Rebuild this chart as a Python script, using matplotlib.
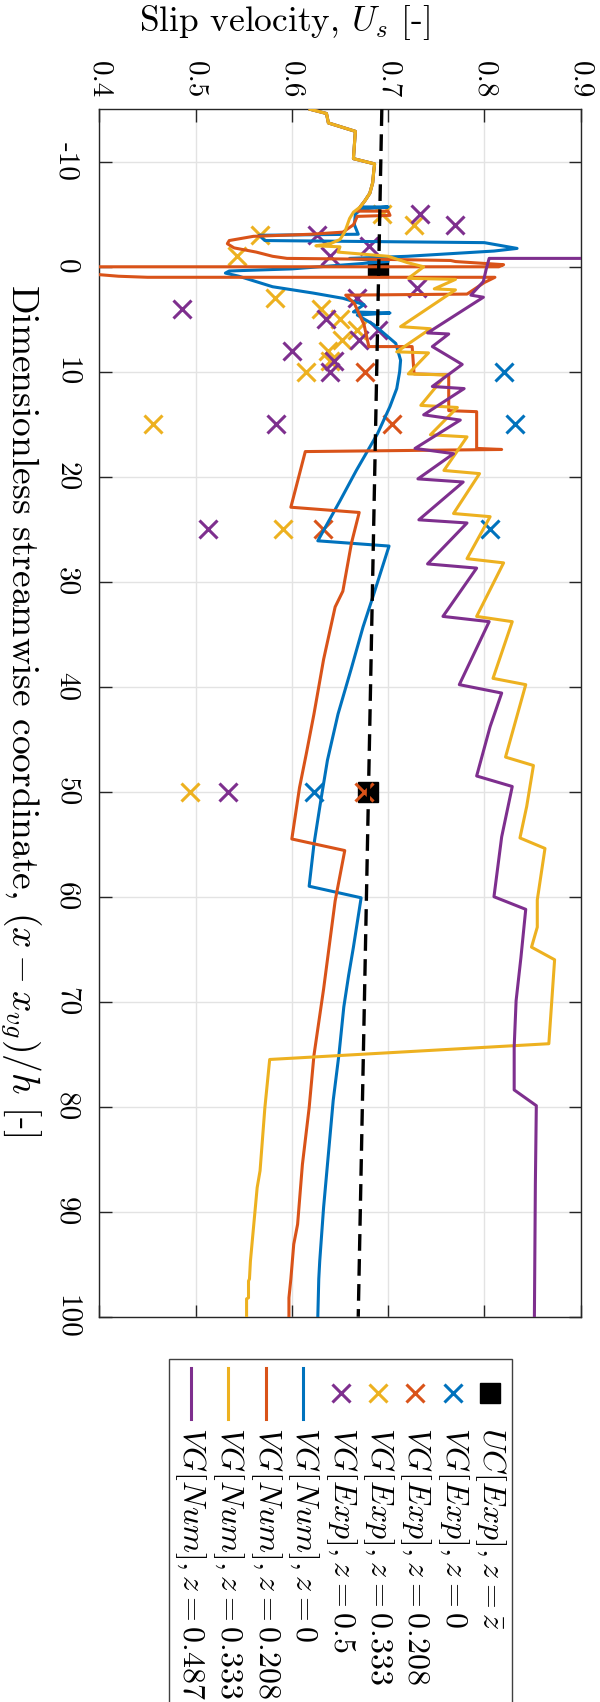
import matplotlib
matplotlib.use('Agg')
import matplotlib.pyplot as plt
from matplotlib.lines import Line2D
from matplotlib.patches import Rectangle

plt.rcParams['font.family'] = 'serif'
plt.rcParams['font.serif'] = ['cmr10']
plt.rcParams['mathtext.fontset'] = 'cm'
plt.rcParams['axes.unicode_minus'] = False
plt.rcParams['axes.formatter.use_mathtext'] = True

# matlab default colours
c_blue = '#0072BD'
c_orange = '#D95319'
c_yellow = '#EDB120'
c_purple = '#7E2F8E'

# ---- experimental data (x-x_vg)/h , U_s ----
uc_s = [0, 50]
uc_u = [0.690, 0.679]

vg0_s = [10, 15, 25, 50]
vg0_u = [0.820, 0.832, 0.806, 0.623]

vg208_s = [10, 15, 25, 50]
vg208_u = [0.676, 0.704, 0.632, 0.675]

vg333_s = [-5, -4, -3, -1, 3, 4, 5, 6, 7, 8, 9, 10, 15, 25, 50]
vg333_u = [0.694, 0.727, 0.567, 0.543, 0.583, 0.630, 0.650, 0.668, 0.652, 0.638,
           0.640, 0.615, 0.456, 0.591, 0.494]

vg5_s = [-5, -4, -3, -2, -1, 2, 3, 4, 5, 6, 7, 8, 9, 10, 15, 25, 50]
vg5_u = [0.733, 0.770, 0.626, 0.680, 0.640, 0.730, 0.668, 0.486, 0.635, 0.690,
         0.670, 0.600, 0.644, 0.640, 0.584, 0.513, 0.534]

# ---- numerical data ----
# upstream part common to z=0, 0.208, 0.333
up_s = [-15, -14.6, -13.7, -12.9, -10.3, -9.8, -9.0, -8.0, -7.0, -6.3, -5.7]
up_u = [0.619, 0.636, 0.638, 0.666, 0.664, 0.686, 0.685, 0.684, 0.681, 0.676, 0.671]

num0_s = [-5.7, -5.5, -5.0, -4.0, -3.1, -3.0, -2.5, -2.3, -1.75, -1.5, -1.0, -0.8,
          -0.5, 0.2, 0.4, 0.6, 0.9, 1.9, 2.5, 3.0, 3.6, 4.3, 4.4, 4.6, 5.5, 7.3,
          8.9, 10, 11.6, 13.3, 15.9, 19.4, 22.3, 26.1, 26.6, 31.5, 34.3, 38.2,
          42.6, 47.0, 50.9, 55.0, 59.0, 60.1, 64.8, 67.5, 70.5, 75.0, 79.4,
          84.5, 89.6, 94.7, 96.4, 100]
num0_u = [0.700, 0.672, 0.666, 0.665, 0.669, 0.566, 0.572, 0.800, 0.834, 0.810,
          0.720, 0.660, 0.700, 0.600, 0.535, 0.531, 0.545, 0.580, 0.622, 0.653,
          0.675, 0.664, 0.702, 0.668, 0.685, 0.708, 0.713, 0.712, 0.709, 0.702,
          0.689, 0.667, 0.650, 0.627, 0.701, 0.684, 0.674, 0.662, 0.648, 0.637,
          0.630, 0.623, 0.618, 0.672, 0.664, 0.659, 0.654, 0.649, 0.643, 0.638,
          0.633, 0.629, 0.628, 0.627]

num208_s = [-5.3, -5.3, -4.9, -4.8, -4.0, -3.3, -3.1, -2.9, -2.5, -2.2, -1.8,
            -1.4, -1.0, -0.8, -0.7, -0.6, -0.5, -0.2, 0.0, 0.0, 0.7, 0.75, 0.9,
            1.0, 1.0, 1.5, 2.6, 2.7, 3.5, 5.5, 7.6, 7.6, 10.2, 10.3, 13.7, 13.8,
            17.3, 17.4, 17.6, 22.9, 23.4, 26.3, 30.9, 32.4, 37.4, 42.6, 46.4,
            49.6, 54.5, 55.6, 60.4, 68.8, 75.1, 80.1, 85.5, 91.2, 93.1, 96.4,
            98.2, 100]
num208_u = [0.668, 0.700, 0.702, 0.668, 0.664, 0.653, 0.620, 0.560, 0.535, 0.533,
            0.540, 0.563, 0.580, 0.595, 0.700, 0.765, 0.770, 0.820, 0.815, 0.380,
            0.380, 0.400, 0.420, 0.450, 0.811, 0.800, 0.782, 0.656, 0.665, 0.675,
            0.680, 0.725, 0.727, 0.763, 0.763, 0.792, 0.792, 0.818, 0.614, 0.599,
            0.670, 0.662, 0.653, 0.645, 0.633, 0.623, 0.615, 0.608, 0.600, 0.655,
            0.645, 0.633, 0.623, 0.618, 0.611, 0.606, 0.602, 0.599, 0.597, 0.597]

num333_s = [-5.2, -4.6, -3.3, -2.6, -2.2, -2.0, -1.9, -1.4, -1.0, -0.4, 0.0, 1.1,
            1.2, 2.1, 2.2, 5.7, 5.9, 8.1, 8.2, 10.2, 10.3, 13.2, 13.4, 16.0, 16.2,
            19.4, 19.7, 23.5, 23.8, 27.8, 28.2, 33.3, 33.8, 39.2, 39.8, 46.7, 47.5,
            51.4, 54.4, 55.4, 60.3, 62.9, 64.8, 66.0, 74.0, 75.5, 80.1, 86.1, 87.7,
            94.7, 96.4, 96.6, 98.2, 98.3, 100]
num333_u = [0.664, 0.660, 0.655, 0.650, 0.640, 0.625, 0.650, 0.648, 0.700, 0.720,
            0.737, 0.721, 0.770, 0.748, 0.770, 0.713, 0.744, 0.709, 0.742, 0.721,
            0.760, 0.734, 0.772, 0.744, 0.782, 0.758, 0.795, 0.768, 0.806, 0.782,
            0.820, 0.792, 0.829, 0.809, 0.843, 0.822, 0.851, 0.844, 0.837, 0.863,
            0.855, 0.855, 0.849, 0.873, 0.867, 0.577, 0.572, 0.567, 0.564, 0.557,
            0.556, 0.555, 0.555, 0.553, 0.553]

num487_s = [-0.8, -0.8, 0.2, 1.4, 2.7, 2.9, 6.3, 6.4, 7.6, 9.3, 11.4, 11.6, 14.1,
            14.6, 17.3, 17.8, 20.2, 20.5, 24.1, 24.4, 28.3, 28.7, 33.3, 33.8, 39.8,
            40.6, 43.8, 48.5, 49.5, 54.3, 60.0, 61.2, 65.8, 69.9, 74.3, 78.4, 79.9,
            87.4, 100]
num487_u = [0.950, 0.805, 0.802, 0.799, 0.786, 0.799, 0.741, 0.763, 0.746, 0.777,
            0.746, 0.779, 0.737, 0.775, 0.728, 0.768, 0.731, 0.778, 0.732, 0.782,
            0.741, 0.792, 0.757, 0.805, 0.774, 0.818, 0.806, 0.792, 0.829, 0.818,
            0.810, 0.843, 0.838, 0.833, 0.831, 0.831, 0.854, 0.853, 0.852]

# fit line for the unperturbed case
fit_s = [-15, 100]
fit_u = [0.6935, 0.669]

xticks = [0.4, 0.5, 0.6, 0.7, 0.8, 0.9]
yticks = [-10, 0, 10, 20, 30, 40, 50, 60, 70, 80, 90, 100]

legend_labels = [r'$UC[Exp], z = \bar{z}$', r'$VG[Exp], z = 0$',
                 r'$VG[Exp], z = 0.208$', r'$VG[Exp], z = 0.333$',
                 r'$VG[Exp], z = 0.5$', r'$VG[Num], z = 0$',
                 r'$VG[Num], z = 0.208$', r'$VG[Num], z = 0.333$',
                 r'$VG[Num], z = 0.487$']

W, H = 600, 1702
fig = plt.figure(figsize=(W / 100, H / 100), dpi=100)
ax = fig.add_axes([99.3 / W, 1 - 1316.7 / H, 481.3 / W, 1207.4 / H])

lw = 2.2
ms = 13
ax.plot(uc_u, uc_s, 's', color='k', ms=14, zorder=3)
ax.plot(vg0_u, vg0_s, 'x', color=c_blue, ms=ms, mew=lw, zorder=3)
ax.plot(vg208_u, vg208_s, 'x', color=c_orange, ms=ms, mew=lw, zorder=3)
ax.plot(vg333_u, vg333_s, 'x', color=c_yellow, ms=ms, mew=lw, zorder=3)
ax.plot(vg5_u, vg5_s, 'x', color=c_purple, ms=ms, mew=lw, zorder=3)

ax.plot(up_u + num0_u, up_s + num0_s, color=c_blue, lw=lw, zorder=3)
ax.plot(up_u + num208_u, up_s + num208_s, color=c_orange, lw=lw, zorder=3)
ax.plot(up_u + num333_u, up_s + num333_s, color=c_yellow, lw=lw, zorder=3)
ax.plot(num487_u, num487_s, color=c_purple, lw=lw, zorder=3)

fl, = ax.plot(fit_u, fit_s, color='k', lw=2.4, zorder=4)
fl.set_dashes([5, 2.5])

ax.set_xlim(0.4, 0.9)
ax.set_ylim(100, -15)
ax.set_xticks(xticks)
ax.set_xticklabels([str(v) for v in xticks])
ax.set_yticks(yticks)
ax.set_yticklabels([str(v) for v in yticks])
ax.xaxis.tick_top()
ax.tick_params(direction='in', top=True, bottom=True, left=True, right=True,
               length=9, width=1, color='#262626', labelsize=21)
ax.tick_params(axis='x', labelrotation=-90, pad=8)
ax.tick_params(axis='y', labelrotation=-90, pad=14)
for lab in ax.get_yticklabels():
    lab.set_va('center')
ax.grid(True, color='#e3e3e3', lw=1)
ax.set_axisbelow(True)
for sp in ax.spines.values():
    sp.set_color('#262626')
    sp.set_linewidth(1)

ax.xaxis.set_label_position('top')
ax.set_xlabel(r'Slip velocity, $U_s$ [-]', fontsize=25.5)
ax.xaxis.set_label_coords((285 - 99.3) / 481.3, 1 + (109.3 - 22) / 1207.4)
ax.xaxis.label.set_va('center')
ax.set_ylabel(r'Dimensionless streamwise coordinate, $(x-x_{vg})/h$ [-]',
              fontsize=27, rotation=-90)
ax.yaxis.set_label_coords((20 - 99.3) / 481.3, (1316.7 - 710) / 1207.4)
ax.yaxis.label.set_va('center')
ax.yaxis.label.set_ha('center')

# legend, drawn rotated like the rest of the figure
fig.add_artist(Rectangle((168.7 / W, 1 - 1760 / H), (511.7 - 168.7) / W,
                         (1760 - 1358.7) / H, transform=fig.transFigure,
                         fill=False, edgecolor='#404040', lw=1.0))
col_x = [490, 453, 415, 378, 341, 303, 266, 228, 190.5]
kinds = [('s', 'k'), ('x', c_blue), ('x', c_orange), ('x', c_yellow), ('x', c_purple),
         ('-', c_blue), ('-', c_orange), ('-', c_yellow), ('-', c_purple)]
for cx, (mk, col), lab in zip(col_x, kinds, legend_labels):
    if mk == 's':
        fig.add_artist(Line2D([cx / W], [1 - 1393 / H], marker='s', color='k',
                              ms=14, ls='none', transform=fig.transFigure))
    elif mk == 'x':
        fig.add_artist(Line2D([cx / W], [1 - 1393 / H], marker='x', color=col,
                              ms=ms, mew=lw, ls='none', transform=fig.transFigure))
    else:
        fig.add_artist(Line2D([cx / W, cx / W], [1 - 1368 / H, 1 - 1419 / H],
                              color=col, lw=lw, transform=fig.transFigure))
    fig.text(cx / W, 1 - 1427 / H, lab, rotation=-90, ha='center', va='top',
             fontsize=23)

fig.savefig('out.png', dpi=100)
